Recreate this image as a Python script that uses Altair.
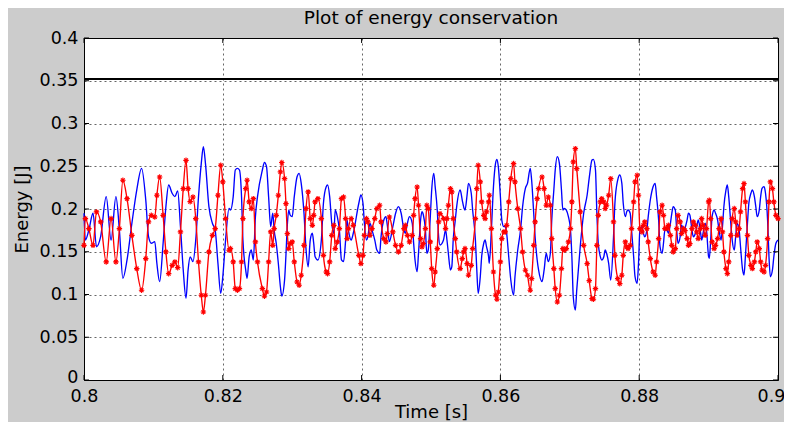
import altair as alt
import pandas as pd

time_s = [0.8000, 0.8002, 0.8007, 0.8013, 0.8018, 0.8024, 0.8032, 0.8039, 0.8046, 0.8051,
          0.8056, 0.8062, 0.8069, 0.8076, 0.8083, 0.8089, 0.8093, 0.8097, 0.8102, 0.8105,
          0.8109, 0.8114, 0.8118, 0.8122, 0.8127, 0.8131, 0.8135, 0.8139, 0.8143, 0.8147,
          0.8150, 0.8153, 0.8157, 0.8161, 0.8165, 0.8169, 0.8172, 0.8175, 0.8180, 0.8185,
          0.8189, 0.8193, 0.8197, 0.8200, 0.8204, 0.8209, 0.8211, 0.8215, 0.8218, 0.8221,
          0.8224, 0.8227, 0.8229, 0.8233, 0.8235, 0.8238, 0.8241, 0.8244, 0.8247, 0.8250,
          0.8257, 0.8260, 0.8263, 0.8266, 0.8269, 0.8272, 0.8274, 0.8277, 0.8280, 0.8283,
          0.8285, 0.8289, 0.8291, 0.8293, 0.8295, 0.8297, 0.8300, 0.8303, 0.8307, 0.8310,
          0.8313, 0.8317, 0.8320, 0.8323, 0.8326, 0.8329, 0.8331, 0.8333, 0.8337, 0.8342,
          0.8345, 0.8349, 0.8351, 0.8354, 0.8357, 0.8360, 0.8362, 0.8365, 0.8368, 0.8371,
          0.8374, 0.8377, 0.8379, 0.8381, 0.8385, 0.8388, 0.8396, 0.8399, 0.8402, 0.8404,
          0.8407, 0.8409, 0.8412, 0.8415, 0.8419, 0.8422, 0.8426, 0.8428, 0.8432, 0.8435,
          0.8437, 0.8440, 0.8445, 0.8449, 0.8453, 0.8457, 0.8461, 0.8463, 0.8466, 0.8469,
          0.8473, 0.8475, 0.8477, 0.8480, 0.8482, 0.8485, 0.8487, 0.8489, 0.8492, 0.8494,
          0.8496, 0.8499, 0.8501, 0.8504, 0.8506, 0.8509, 0.8511, 0.8513, 0.8518, 0.8521,
          0.8523, 0.8525, 0.8528, 0.8530, 0.8532, 0.8535, 0.8537, 0.8542, 0.8545, 0.8547,
          0.8549, 0.8552, 0.8554, 0.8558, 0.8560, 0.8564, 0.8566, 0.8568, 0.8571, 0.8573,
          0.8576, 0.8578, 0.8580, 0.8583, 0.8584, 0.8587, 0.8590, 0.8593, 0.8595, 0.8597,
          0.8600, 0.8602, 0.8605, 0.8607, 0.8609, 0.8612, 0.8615, 0.8619, 0.8621, 0.8625,
          0.8629, 0.8632, 0.8636, 0.8639, 0.8643, 0.8645, 0.8648, 0.8650, 0.8653, 0.8655,
          0.8660, 0.8663, 0.8666, 0.8669, 0.8672, 0.8674, 0.8677, 0.8679, 0.8682, 0.8685,
          0.8688, 0.8690, 0.8692, 0.8695, 0.8698, 0.8701, 0.8703, 0.8705, 0.8708, 0.8710,
          0.8715, 0.8720, 0.8725, 0.8728, 0.8732, 0.8734, 0.8737, 0.8739, 0.8741, 0.8744,
          0.8746, 0.8749, 0.8751, 0.8753, 0.8756, 0.8759, 0.8763, 0.8765, 0.8769, 0.8772,
          0.8775, 0.8777, 0.8780, 0.8782, 0.8784, 0.8787, 0.8789, 0.8792, 0.8794, 0.8797,
          0.8799, 0.8801, 0.8804, 0.8806, 0.8808, 0.8811, 0.8813, 0.8816, 0.8820, 0.8823,
          0.8825, 0.8828, 0.8830, 0.8833, 0.8835, 0.8837, 0.8840, 0.8842, 0.8845, 0.8847,
          0.8849, 0.8852, 0.8854, 0.8856, 0.8859, 0.8861, 0.8864, 0.8866, 0.8869, 0.8871,
          0.8873, 0.8876, 0.8878, 0.8881, 0.8883, 0.8885, 0.8888, 0.8890, 0.8892, 0.8895,
          0.8897, 0.8900, 0.8901, 0.8903, 0.8905, 0.8908, 0.8910, 0.8913, 0.8915, 0.8918,
          0.8920, 0.8922, 0.8925, 0.8927, 0.8929, 0.8932, 0.8934, 0.8937, 0.8939, 0.8941,
          0.8944, 0.8946, 0.8949, 0.8951, 0.8953, 0.8956, 0.8958, 0.8961, 0.8963, 0.8966,
          0.8968, 0.8970, 0.8973, 0.8975, 0.8977, 0.8980, 0.8982, 0.8985, 0.8987, 0.8989,
          0.8992, 0.8994, 0.8997, 0.9000]

energy_blue = [0.1950, 0.1637, 0.1754, 0.1950, 0.1559, 0.1676, 0.2144, 0.1637, 0.2144, 0.1754,
               0.1189, 0.1404, 0.1833, 0.2222, 0.2476, 0.2105, 0.1676, 0.1599, 0.1618, 0.1365,
               0.1150, 0.1599, 0.2027, 0.2281, 0.2184, 0.2144, 0.2211, 0.1793, 0.1287, 0.0956,
               0.1287, 0.1439, 0.1384, 0.1637, 0.2144, 0.2534, 0.2729, 0.2534, 0.2027, 0.1833,
               0.1754, 0.1365, 0.1014, 0.1208, 0.1637, 0.2008, 0.1988, 0.2144, 0.2456, 0.2476,
               0.2456, 0.2144, 0.1637, 0.1287, 0.1189, 0.1442, 0.1520, 0.1404, 0.1910, 0.2144,
               0.2456, 0.2546, 0.2495, 0.2144, 0.1793, 0.1950, 0.1754, 0.1599, 0.1365, 0.1091,
               0.0982, 0.1170, 0.1462, 0.1813, 0.1988, 0.1930, 0.1910, 0.2144, 0.2378, 0.2417,
               0.2300, 0.1950, 0.1520, 0.1325, 0.1637, 0.1716, 0.1599, 0.1442, 0.1404, 0.1637,
               0.2067, 0.2261, 0.2281, 0.2144, 0.1833, 0.1716, 0.1988, 0.1910, 0.1754, 0.1404,
               0.1384, 0.1637, 0.1871, 0.1754, 0.1637, 0.1716, 0.2067, 0.2164, 0.2067, 0.1833,
               0.1637, 0.1676, 0.1833, 0.1754, 0.1637, 0.1520, 0.1482, 0.1676, 0.1871, 0.1910,
               0.1813, 0.1618, 0.1793, 0.1950, 0.2027, 0.1950, 0.1754, 0.1716, 0.1833, 0.1910,
               0.1833, 0.1599, 0.1404, 0.1267, 0.1482, 0.1871, 0.1968, 0.1930, 0.1754, 0.1482,
               0.1520, 0.1910, 0.2222, 0.2417, 0.2261, 0.1988, 0.1676, 0.1579, 0.1637, 0.1754,
               0.1637, 0.1482, 0.1287, 0.1325, 0.1637, 0.1871, 0.2027, 0.2222, 0.2105, 0.2027,
               0.1988, 0.2164, 0.2300, 0.2184, 0.1988, 0.1637, 0.1287, 0.1014, 0.1208, 0.1442,
               0.1599, 0.1637, 0.1559, 0.1442, 0.1365, 0.1754, 0.2261, 0.2534, 0.2581, 0.2495,
               0.2144, 0.1871, 0.1793, 0.1793, 0.1716, 0.1442, 0.1170, 0.0994, 0.1208, 0.1520,
               0.1754, 0.2027, 0.2242, 0.2300, 0.2476, 0.2339, 0.1950, 0.1676, 0.1404, 0.1287,
               0.1150, 0.1287, 0.1482, 0.1384, 0.1482, 0.1871, 0.2222, 0.2456, 0.2612, 0.2534,
               0.2222, 0.1988, 0.2008, 0.1988, 0.1910, 0.1754, 0.1442, 0.0974, 0.0819, 0.1053,
               0.1559, 0.1950, 0.2164, 0.2363, 0.2573, 0.2581, 0.2456, 0.1950, 0.1599, 0.1442,
               0.1404, 0.1442, 0.1520, 0.1482, 0.1365, 0.1170, 0.1676, 0.2067, 0.2339, 0.2398,
               0.2300, 0.2067, 0.1910, 0.1968, 0.1988, 0.1950, 0.1754, 0.1442, 0.1208, 0.1131,
               0.1365, 0.1754, 0.1793, 0.1716, 0.1676, 0.1754, 0.1910, 0.2105, 0.2261, 0.2300,
               0.2144, 0.1871, 0.1559, 0.1482, 0.1599, 0.1754, 0.1754, 0.1716, 0.1833, 0.1950,
               0.2027, 0.1988, 0.1754, 0.1599, 0.1676, 0.1813, 0.1754, 0.1778, 0.1871, 0.1950,
               0.1930, 0.1754, 0.1676, 0.1716, 0.1793, 0.1871, 0.1754, 0.1637, 0.1716, 0.1833,
               0.1754, 0.1442, 0.1423, 0.1637, 0.1910, 0.1988, 0.1950, 0.1871, 0.1754, 0.1637,
               0.1793, 0.2027, 0.2222, 0.2281, 0.2144, 0.1833, 0.1637, 0.1520, 0.1676, 0.1833,
               0.1754, 0.1559, 0.1287, 0.1228, 0.1442, 0.1833, 0.2067, 0.2184, 0.2222, 0.2144,
               0.2027, 0.1910, 0.1988, 0.2144, 0.2242, 0.2261, 0.2184, 0.1871, 0.1442, 0.1208,
               0.1287, 0.1442, 0.1599, 0.1637]

energy_red = [0.1575, 0.1888, 0.1771, 0.1575, 0.1966, 0.1849, 0.1381, 0.1888, 0.1381, 0.1771,
              0.2336, 0.2121, 0.1692, 0.1303, 0.1049, 0.1420, 0.1849, 0.1926, 0.1907, 0.2160,
              0.2375, 0.1926, 0.1498, 0.1244, 0.1341, 0.1381, 0.1314, 0.1732, 0.2238, 0.2569,
              0.2238, 0.2086, 0.2141, 0.1888, 0.1381, 0.0991, 0.0796, 0.0991, 0.1498, 0.1692,
              0.1771, 0.2160, 0.2511, 0.2317, 0.1888, 0.1517, 0.1537, 0.1381, 0.1069, 0.1049,
              0.1069, 0.1381, 0.1888, 0.2238, 0.2336, 0.2083, 0.2005, 0.2121, 0.1615, 0.1381,
              0.1069, 0.0979, 0.1030, 0.1381, 0.1732, 0.1575, 0.1771, 0.1926, 0.2160, 0.2434,
              0.2543, 0.2355, 0.2063, 0.1712, 0.1537, 0.1595, 0.1615, 0.1381, 0.1147, 0.1108,
              0.1225, 0.1575, 0.2005, 0.2200, 0.1888, 0.1809, 0.1926, 0.2083, 0.2121, 0.1888,
              0.1458, 0.1264, 0.1244, 0.1381, 0.1692, 0.1809, 0.1537, 0.1615, 0.1771, 0.2121,
              0.2141, 0.1888, 0.1654, 0.1771, 0.1888, 0.1809, 0.1458, 0.1361, 0.1458, 0.1692,
              0.1888, 0.1849, 0.1692, 0.1771, 0.1888, 0.2005, 0.2043, 0.1849, 0.1654, 0.1615,
              0.1712, 0.1907, 0.1732, 0.1575, 0.1498, 0.1575, 0.1771, 0.1809, 0.1692, 0.1615,
              0.1692, 0.1926, 0.2121, 0.2258, 0.2043, 0.1654, 0.1557, 0.1595, 0.1771, 0.2043,
              0.2005, 0.1615, 0.1303, 0.1108, 0.1264, 0.1537, 0.1849, 0.1946, 0.1888, 0.1771,
              0.1888, 0.2043, 0.2238, 0.2200, 0.1888, 0.1654, 0.1498, 0.1303, 0.1420, 0.1498,
              0.1537, 0.1361, 0.1225, 0.1341, 0.1537, 0.1888, 0.2238, 0.2511, 0.2317, 0.2083,
              0.1926, 0.1888, 0.1966, 0.2083, 0.2160, 0.1771, 0.1264, 0.0991, 0.0944, 0.1030,
              0.1381, 0.1654, 0.1732, 0.1732, 0.1809, 0.2083, 0.2355, 0.2531, 0.2317, 0.2005,
              0.1771, 0.1498, 0.1283, 0.1225, 0.1049, 0.1186, 0.1575, 0.1849, 0.2121, 0.2238,
              0.2375, 0.2238, 0.2043, 0.2141, 0.2043, 0.1654, 0.1303, 0.1069, 0.0913, 0.0991,
              0.1303, 0.1537, 0.1517, 0.1537, 0.1615, 0.1771, 0.2083, 0.2551, 0.2706, 0.2472,
              0.1966, 0.1575, 0.1361, 0.1162, 0.0952, 0.0944, 0.1069, 0.1575, 0.1926, 0.2083,
              0.2121, 0.2083, 0.2005, 0.2043, 0.2160, 0.2355, 0.1849, 0.1458, 0.1186, 0.1127,
              0.1225, 0.1458, 0.1615, 0.1557, 0.1537, 0.1575, 0.1771, 0.2083, 0.2317, 0.2394,
              0.2160, 0.1771, 0.1732, 0.1809, 0.1849, 0.1771, 0.1615, 0.1420, 0.1264, 0.1225,
              0.1381, 0.1654, 0.1966, 0.2043, 0.1926, 0.1771, 0.1771, 0.1809, 0.1692, 0.1575,
              0.1498, 0.1537, 0.1771, 0.1926, 0.1849, 0.1712, 0.1771, 0.1747, 0.1654, 0.1575,
              0.1595, 0.1771, 0.1849, 0.1809, 0.1732, 0.1654, 0.1771, 0.1888, 0.1809, 0.1692,
              0.1771, 0.2083, 0.2102, 0.1888, 0.1615, 0.1537, 0.1575, 0.1654, 0.1771, 0.1888,
              0.1732, 0.1498, 0.1303, 0.1244, 0.1381, 0.1692, 0.1888, 0.2005, 0.1849, 0.1692,
              0.1771, 0.1966, 0.2238, 0.2297, 0.2083, 0.1692, 0.1458, 0.1341, 0.1303, 0.1381,
              0.1498, 0.1615, 0.1537, 0.1381, 0.1283, 0.1264, 0.1341, 0.1654, 0.2083, 0.2317,
              0.2238, 0.2083, 0.1926, 0.1888]

total_energy = 0.3525

x_ticks = [0.8, 0.82, 0.84, 0.86, 0.88, 0.9]
y_ticks = [0, 0.05, 0.1, 0.15, 0.2, 0.25, 0.3, 0.35, 0.4]

FONT = "DejaVu Sans"

df = pd.DataFrame({"t": time_s, "blue": energy_blue, "red": energy_red})
xt = pd.DataFrame({"v": x_ticks})
yt = pd.DataFrame({"v": y_ticks})

xscale = alt.Scale(domain=[0.8, 0.9], nice=False, zero=False)
yscale = alt.Scale(domain=[0, 0.4], nice=False)

x_axis = alt.Axis(values=x_ticks, format="~g", title="Time [s]", grid=True,
                  ticks=False, domain=False, labelPadding=7, titlePadding=-1,
                  labelFlush=False,
                  labelOffset=alt.condition("datum.value >= 0.9", alt.value(-7), alt.value(0)))
y_axis = alt.Axis(values=y_ticks, format="~g", title="Energy [J]", grid=True,
                  ticks=False, domain=False, labelPadding=6, titlePadding=8,
                  labelOffset=alt.condition("datum.value <= 0", alt.value(-3), alt.value(0)))

total_rule = alt.Chart(df).mark_rule(color="black", strokeWidth=1.1).encode(
    y=alt.datum(total_energy, scale=yscale)
)

blue_line = alt.Chart(df).mark_line(color="#0000FF", strokeWidth=1.35, interpolate="monotone").encode(
    x=alt.X("t:Q", scale=xscale, axis=x_axis),
    y=alt.Y("blue:Q", scale=yscale, axis=y_axis),
)

red_line = alt.Chart(df).mark_line(color="#FF0000", strokeWidth=1.35, interpolate="monotone").encode(
    x=alt.X("t:Q", scale=xscale),
    y=alt.Y("red:Q", scale=yscale),
)

asterisk = "M-1,0L1,0M0,-1L0,1M-0.7,-0.7L0.7,0.7M-0.7,0.7L0.7,-0.7"
red_pts = alt.Chart(df).mark_point(shape=asterisk, filled=False, color="#FF0000",
                                   size=30, strokeWidth=1.1, opacity=1).encode(
    x=alt.X("t:Q", scale=xscale),
    y=alt.Y("red:Q", scale=yscale),
)

tick_len_y = 0.0058
tick_len_x = 0.00072
xt_bottom = alt.Chart(xt).mark_rule(color="black", strokeWidth=1).encode(
    x=alt.X("v:Q", scale=xscale), y=alt.datum(0), y2=alt.datum(tick_len_y))
xt_top = alt.Chart(xt).mark_rule(color="black", strokeWidth=1).encode(
    x=alt.X("v:Q", scale=xscale), y=alt.datum(0.4), y2=alt.datum(0.4 - tick_len_y))
yt_left = alt.Chart(yt).mark_rule(color="black", strokeWidth=1).encode(
    y=alt.Y("v:Q", scale=yscale), x=alt.datum(0.8), x2=alt.datum(0.8 + tick_len_x))
yt_right = alt.Chart(yt).mark_rule(color="black", strokeWidth=1).encode(
    y=alt.Y("v:Q", scale=yscale), x=alt.datum(0.9), x2=alt.datum(0.9 - tick_len_x))

chart = alt.layer(
    blue_line, red_line, red_pts, total_rule, xt_bottom, xt_top, yt_left, yt_right
).properties(
    width=694,
    height=342,
    title=alt.TitleParams("Plot of energy conservation", font=FONT, fontSize=18.5,
                          fontWeight="normal", color="black", offset=9, dy=7),
    autosize=alt.AutoSizeParams(type="none"),
    padding={"left": 76, "top": 30, "right": 6, "bottom": 42},
    background="#CCCCCC",
).configure_view(
    stroke="black", strokeWidth=1, fill="white"
).configure_axis(
    labelFont=FONT, titleFont=FONT, labelFontSize=17.5, titleFontSize=18,
    labelColor="black", titleColor="black", titleFontWeight="normal",
    gridColor="#000000", gridOpacity=0.75, gridDash=[2, 3], gridWidth=0.8,
)

chart.save("out.html", embed_options={"renderer": "svg", "actions": False})
